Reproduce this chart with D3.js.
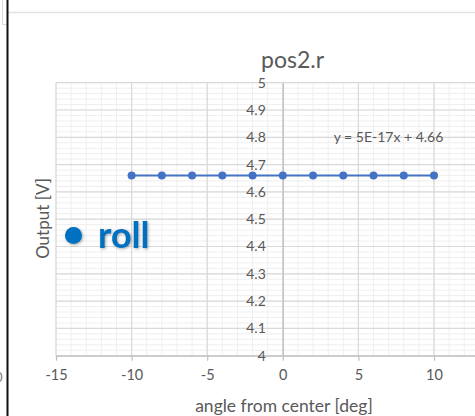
<!DOCTYPE html>
<html><head><meta charset="utf-8">
<script src="https://cdn.jsdelivr.net/npm/d3@7"></script>
<style>
body{margin:0;background:#fff;overflow:hidden;}
svg{display:block;font-family:Lato,"Open Sans",sans-serif;}
</style>
</head><body>
<svg id="c" width="475" height="416"></svg>
<script>
// ---- data ----
const angles = [-10, -8, -6, -4, -2, 0, 2, 4, 6, 8, 10];
const outputs = [4.66, 4.66, 4.66, 4.66, 4.66, 4.66, 4.66, 4.66, 4.66, 4.66, 4.66];
const xTickValues = [-15, -10, -5, 0, 5, 10];
const xTickLabels = ["-15", "-10", "-5", "0", "5", "10"];
const yTickValues = [4, 4.1, 4.2, 4.3, 4.4, 4.5, 4.6, 4.7, 4.8, 4.9, 5];
const yTickLabels = ["4", "4.1", "4.2", "4.3", "4.4", "4.5", "4.6", "4.7", "4.8", "4.9", "5"];
const chartTitle = "pos2.r";
const xTitle = "angle from center [deg]";
const yTitle = "Output [V]";
const seriesName = "roll";
const trendLabel = "y = 5E-17x + 4.66";

// ---- drawing ----
const svg = d3.select("#c");
const x = d3.scaleLinear().domain([-15, 15]).range([56, 509.6]);
const y = d3.scaleLinear().domain([4, 5]).range([355.7, 82.7]);

// frame bits of the screenshot
svg.append("line").attr("x1", 8).attr("x2", 475).attr("y1", 12.5).attr("y2", 12.5)
  .attr("stroke", "#e3e3e3").attr("stroke-width", 1.5);
svg.append("path").attr("d", "M2.5,0 V24.5 H7").attr("fill", "none").attr("stroke", "#dcdcdc");
svg.append("line").attr("x1", 7.5).attr("x2", 7.5).attr("y1", 0).attr("y2", 416)
  .attr("stroke", "#111").attr("stroke-width", 2);
svg.append("text").attr("x", -5).attr("y", 382).attr("font-size", 13).attr("fill", "#777").text("0");

const grid = svg.append("g");
const minorX = d3.range(-15, 15.001, 1);
const minorY = d3.range(0, 51).map(i => 4 + i * 0.02);
const majorX = [-15, -10, -5, 0, 5, 10, 15];
grid.selectAll(".mx").data(minorX).join("line")
  .attr("x1", d => x(d)).attr("x2", d => x(d)).attr("y1", y(5)).attr("y2", y(4))
  .attr("stroke", "#efefef").attr("stroke-width", 1);
grid.selectAll(".my").data(minorY).join("line")
  .attr("x1", x(-15)).attr("x2", x(15)).attr("y1", d => y(d)).attr("y2", d => y(d))
  .attr("stroke", "#efefef").attr("stroke-width", 1);
grid.selectAll(".Mx").data(majorX).join("line")
  .attr("x1", d => x(d)).attr("x2", d => x(d)).attr("y1", y(5)).attr("y2", y(4))
  .attr("stroke", "#d9d9d9").attr("stroke-width", 1.2);
grid.selectAll(".My").data(yTickValues).join("line")
  .attr("x1", x(-15)).attr("x2", x(15)).attr("y1", d => y(d)).attr("y2", d => y(d))
  .attr("stroke", "#d9d9d9").attr("stroke-width", 1.2);

// axes
const xAxis = svg.append("g").attr("transform", `translate(0,${y(4)})`)
  .call(d3.axisBottom(x).tickValues(xTickValues).tickFormat((d, i) => xTickLabels[i])
    .tickSizeInner(5).tickSizeOuter(0).tickPadding(9));
xAxis.select(".domain").attr("stroke", "#bfbfbf").attr("stroke-width", 1.2);
xAxis.selectAll(".tick line").attr("stroke", "#bfbfbf").attr("stroke-width", 1.2);
xAxis.selectAll("text").attr("font-size", 14.5).attr("fill", "#595959").attr("font-family", "Lato");

const yAxis = svg.append("g").attr("transform", `translate(${x(0)},0)`)
  .call(d3.axisLeft(y).tickValues(yTickValues).tickFormat((d, i) => yTickLabels[i])
    .tickSize(0).tickPadding(17));
yAxis.select(".domain").attr("stroke", "#bfbfbf").attr("stroke-width", 1.2);
yAxis.selectAll("text").attr("font-size", 14).attr("fill", "#595959").attr("font-family", "Lato");

// series
const pts = angles.map((a, i) => [a, outputs[i]]);
svg.append("path").datum(pts)
  .attr("d", d3.line().x(d => x(d[0])).y(d => y(d[1])))
  .attr("fill", "none").attr("stroke", "#4472c4").attr("stroke-width", 2);
svg.selectAll(".pt").data(pts).join("circle")
  .attr("cx", d => x(d[0])).attr("cy", d => y(d[1])).attr("r", 4)
  .attr("fill", "#4472c4");

// trendline equation
svg.append("text").attr("x", 388.5).attr("y", 142).attr("text-anchor", "middle")
  .attr("font-size", 14).attr("fill", "#595959").text(trendLabel);

// title
svg.append("text").attr("x", 292.5).attr("y", 68).attr("text-anchor", "middle")
  .attr("font-size", 23).attr("fill", "#595959").text(chartTitle);

// axis titles
svg.append("text").attr("x", 284).attr("y", 412).attr("text-anchor", "middle")
  .attr("font-size", 17.5).attr("fill", "#595959").text(xTitle);
svg.append("text").attr("transform", "translate(49,218.5) rotate(-90)").attr("text-anchor", "middle")
  .attr("font-size", 17).attr("fill", "#595959").text(yTitle);

// legend
const leg = svg.append("g").style("filter", "drop-shadow(1.5px 1.5px 1.5px rgba(0,0,0,0.35))");
leg.append("circle").attr("cx", 73.5).attr("cy", 235.5).attr("r", 8.5).attr("fill", "#0070c0");
leg.append("text").attr("x", 98).attr("y", 248).attr("font-size", 36).attr("font-weight", "bold")
  .attr("fill", "#0070c0").text(seriesName);
</script>
</body></html>
